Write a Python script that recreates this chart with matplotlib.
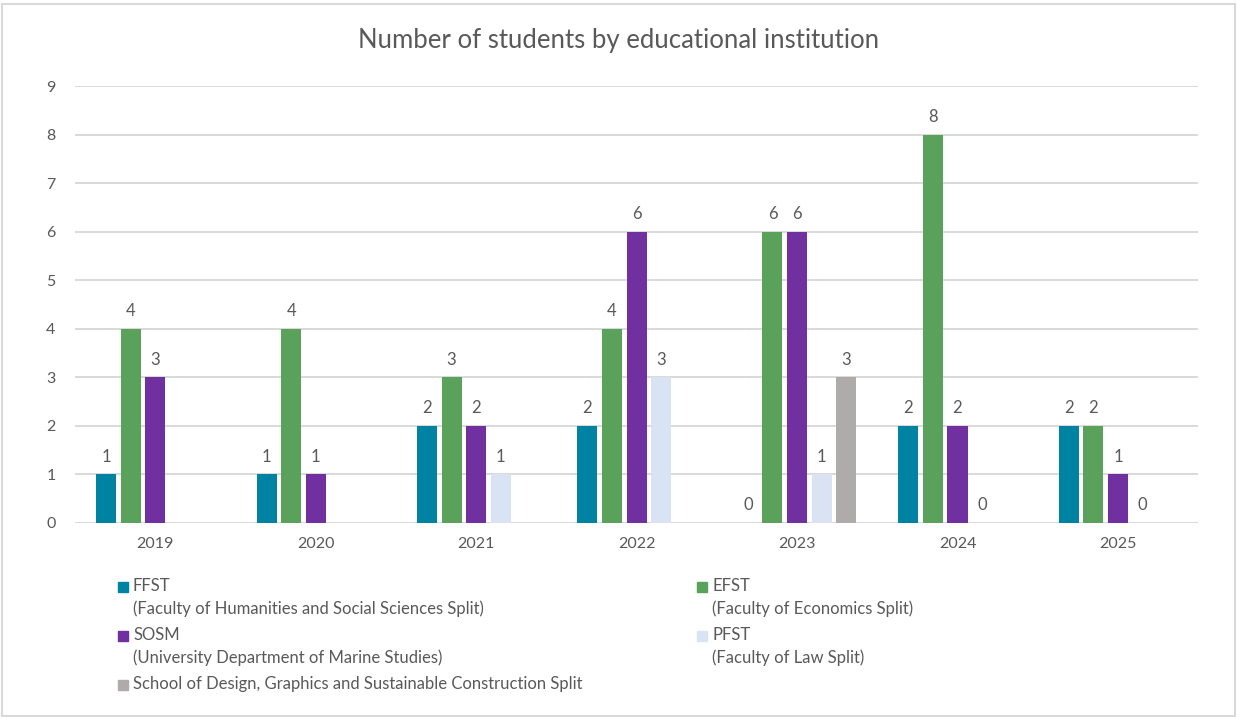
import numpy as np
import matplotlib.pyplot as plt
from matplotlib.patches import Rectangle

plt.rcParams['font.family'] = ['Lato', 'DejaVu Sans']

years = ['2019', '2020', '2021', '2022', '2023', '2024', '2025']
ffst = [1, 1, 2, 2, 0, 2, 2]
efst = [4, 4, 3, 4, 6, 8, 2]
sosm = [3, 1, 2, 6, 6, 2, 1]
pfst = [np.nan, np.nan, 1, 3, 1, 0, 0]
design = [np.nan, np.nan, np.nan, np.nan, 3, np.nan, np.nan]

series = [ffst, efst, sosm, pfst, design]
names = ['FFST\n(Faculty of Humanities and Social Sciences Split)',
         'EFST\n(Faculty of Economics Split)',
         'SOSM\n(University Department of Marine Studies)',
         'PFST\n(Faculty of Law Split)',
         'School of Design, Graphics and Sustainable Construction Split']
colors = ['#0083A3', '#5AA25C', '#7030A0', '#DAE3F3', '#AFABAB']

txt = '#595959'
fig = plt.figure(figsize=(12.37, 7.17), dpi=100)
fig.patches.append(Rectangle((0.002, 0.002), 0.996, 0.992, transform=fig.transFigure,
                             fill=False, edgecolor='#D9D9D9', linewidth=1.5))
ax = fig.add_axes([0.0606, 0.2706, 0.908, 0.6094])

x = np.arange(len(years))
step = 0.153
width = 0.125
for j, (vals, c) in enumerate(zip(series, colors)):
    pos = x + (j - 2) * step
    v = np.array(vals, dtype=float)
    ax.bar(pos, np.nan_to_num(v), width, color=c, zorder=3)
    for p, val in zip(pos, v):
        if not np.isnan(val):
            ax.annotate(f'{int(val)}', (p, val), xytext=(0, 7), textcoords='offset points',
                        ha='center', va='bottom', fontsize=12, color=txt)

ax.set_xlim(-0.5, len(years) - 0.5)
ax.set_ylim(0, 9)
ax.set_yticks(range(10))
ax.set_xticks(x)
ax.set_xticklabels(years)
ax.grid(axis='y', color='#D9D9D9', linewidth=1.4, zorder=0)
for s in ax.spines.values():
    s.set_visible(False)
ax.tick_params(length=0, labelsize=11.5, labelcolor=txt)
ax.tick_params(axis='x', pad=10)
ax.tick_params(axis='y', pad=14)

fig.text(0.5, 0.943, 'Number of students by educational institution', ha='center',
         va='center', fontsize=18.5, color=txt)

# legend drawn by hand, two columns
W, H = 1237, 717
spots = [(118, 587), (697, 587), (118, 636), (697, 636), (118, 685)]
for (px, py), name, c in zip(spots, names, colors):
    fig.patches.append(Rectangle((px / W, (H - py - 5) / H), 10 / W, 10 / H,
                                 transform=fig.transFigure, color=c))
    fig.text((px + 15) / W, (H - py + 9) / H, name, ha='left', va='top', fontsize=12,
             color=txt, linespacing=1.45, transform=fig.transFigure)

fig.savefig('out.png', dpi=100)
